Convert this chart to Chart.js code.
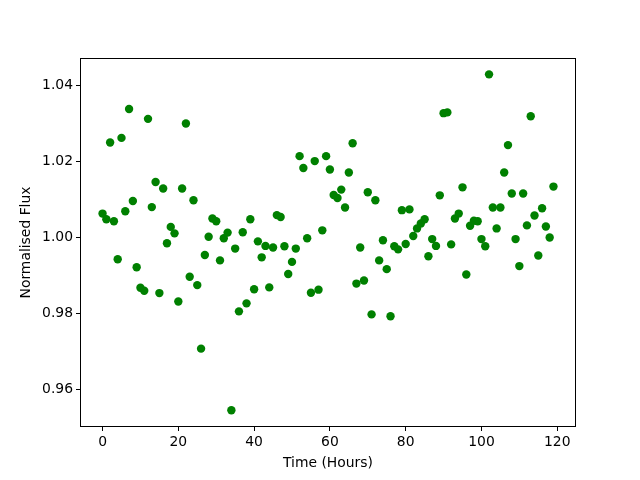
<!DOCTYPE html>
<html>
<head>
<meta charset="utf-8">
<script src="https://cdn.jsdelivr.net/npm/chart.js@4"></script>
<style>
  body { margin: 0; background: #fff; }
  canvas { display: block; }
</style>
</head>
<body>
<canvas id="flux" width="640" height="480"></canvas>
<script>
const hours = [
  0, 1, 2, 3, 4, 5, 6, 7, 8, 9, 10, 11, 12, 13, 14, 15, 16, 17, 18, 19,
  20, 21, 22, 23, 24, 25, 26, 27, 28, 29, 30, 31, 32, 33, 34, 35, 36, 37, 38, 39,
  40, 41, 42, 43, 44, 45, 46, 47, 48, 49, 50, 51, 52, 53, 54, 55, 56, 57, 58, 59,
  60, 61, 62, 63, 64, 65, 66, 67, 68, 69, 70, 71, 72, 73, 74, 75, 76, 77, 78, 79,
  80, 81, 82, 83, 84, 85, 86, 87, 88, 89, 90, 91, 92, 93, 94, 95, 96, 97, 98, 99,
  100, 101, 102, 103, 104, 105, 106, 107, 108, 109, 110, 111, 112, 113, 114, 115, 116, 117, 118, 119
];
const flux = [
  1.0062, 1.0047, 1.0249, 1.0042, 0.9942, 1.0261, 1.0068, 1.0337, 1.0095, 0.9921,
  0.9867, 0.9859, 1.0311, 1.0079, 1.0145, 0.9853, 1.0128, 0.9984, 1.0027, 1.0010,
  0.9831, 1.0128, 1.0299, 0.9896, 1.0097, 0.9874, 0.9707, 0.9953, 1.0001, 1.0049,
  1.0042, 0.9939, 0.9997, 1.0012, 0.9545, 0.9970, 0.9805, 1.0013, 0.9826, 1.0047,
  0.9863, 0.9989, 0.9947, 0.9977, 0.9868, 0.9973, 1.0058, 1.0053, 0.9976, 0.9903,
  0.9935, 0.9970, 1.0213, 1.0182, 0.9997, 0.9854, 1.0200, 0.9862, 1.0018, 1.0213,
  1.0178, 1.0111, 1.0103, 1.0125, 1.0078, 1.0170, 1.0247, 0.9878, 0.9973, 0.9886,
  1.0118, 0.9797, 1.0097, 0.9939, 0.9992, 0.9916, 0.9792, 0.9976, 0.9968, 1.0071,
  0.9982, 1.0073, 1.0003, 1.0023, 1.0036, 1.0047, 0.9950, 0.9995, 0.9977, 1.0110,
  1.0326, 1.0328, 0.9981, 1.0049, 1.0062, 1.0131, 0.9902, 1.0030, 1.0043, 1.0042,
  0.9995, 0.9976, 1.0428, 1.0078, 1.0023, 1.0078, 1.0170, 1.0242, 1.0115, 0.9995,
  0.9924, 1.0115, 1.0031, 1.0318, 1.0057, 0.9952, 1.0076, 1.0028, 0.9999, 1.0133
];
const xTicks = [0, 20, 40, 60, 80, 100, 120];
const yTicks = [0.96, 0.98, 1.00, 1.02, 1.04];

const points = hours.map((h, i) => ({ x: h, y: flux[i] }));
const font = { family: "'DejaVu Sans', sans-serif", size: 13.9 };

// matplotlib-style frame around the axes
const frame = {
  id: "frame",
  afterDatasetsDraw(chart) {
    const { ctx, chartArea: a } = chart;
    ctx.save();
    ctx.strokeStyle = "#000";
    ctx.lineWidth = 1;
    ctx.strokeRect(a.left + 0.5, a.top + 0.5, a.right - a.left - 1, a.bottom - a.top - 1);
    ctx.restore();
  },
};

new Chart(document.getElementById("flux").getContext("2d"), {
  type: "scatter",
  data: {
    datasets: [
      {
        data: points,
        backgroundColor: "#008000",
        borderWidth: 0,
        pointRadius: 4.2,
        pointHoverRadius: 4.2,
      },
    ],
  },
  options: {
    responsive: false,
    animation: false,
    layout: { padding: { top: 58, right: 64, left: 0, bottom: 0 } },
    plugins: { legend: { display: false }, tooltip: { enabled: false } },
    scales: {
      x: {
        type: "linear",
        min: -5.95,
        max: 124.95,
        afterBuildTicks: (s) => { s.ticks = xTicks.map((v) => ({ value: v })); },
        afterFit: (s) => { s.height = 53; },
        grid: { drawOnChartArea: false, tickLength: 4, color: "#000", tickColor: "#000" },
        border: { display: false },
        ticks: { color: "#000", font, padding: 3, maxRotation: 0 },
        title: { display: true, text: "Time (Hours)", color: "#000", font, padding: { bottom: 8.7 } },
      },
      y: {
        type: "linear",
        min: 0.9501,
        max: 1.0471,
        afterBuildTicks: (s) => { s.ticks = yTicks.map((v) => ({ value: v })); },
        afterFit: (s) => { s.width = 80; },
        grid: { drawOnChartArea: false, tickLength: 4, color: "#000", tickColor: "#000" },
        border: { display: false },
        ticks: { color: "#000", font, padding: 3, callback: (v) => v.toFixed(2) },
        title: { display: true, text: "Normalised Flux", color: "#000", font, padding: { top: 17.7 } },
      },
    },
  },
  plugins: [frame],
});
</script>
</body>
</html>
